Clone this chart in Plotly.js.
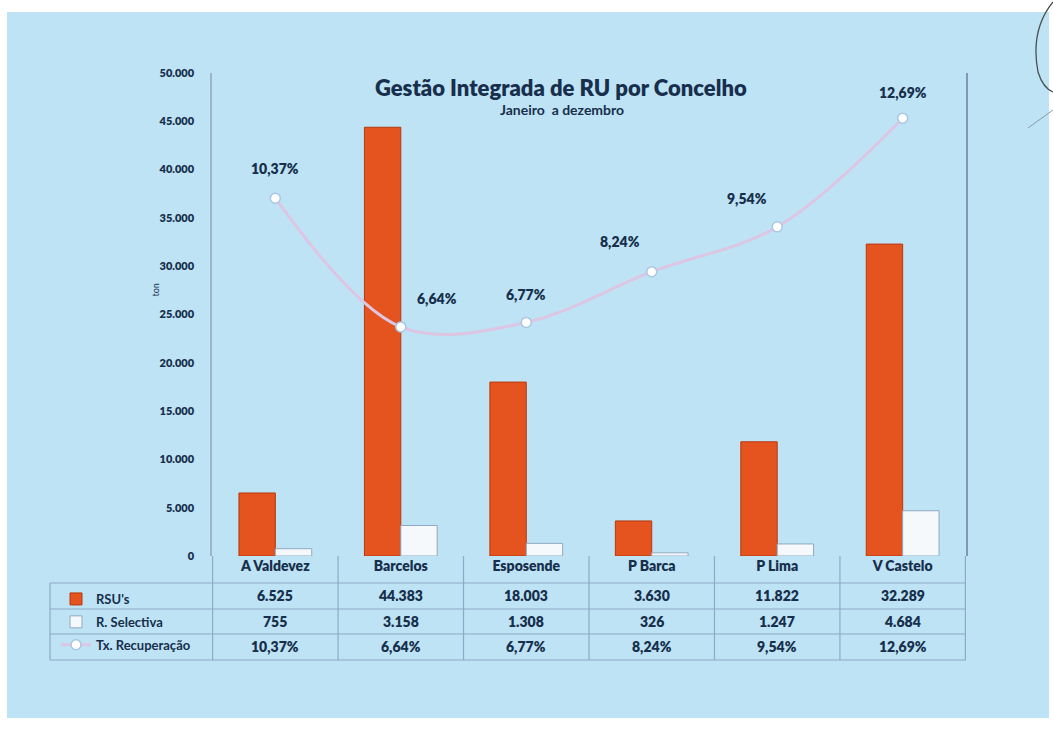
<!DOCTYPE html>
<html>
<head>
<meta charset="utf-8">
<script src="https://cdn.plot.ly/plotly-3.0.1.min.js"></script>
<style>
html,body{margin:0;padding:0;background:#ffffff;}
#chart{width:1053px;height:731px;}
</style>
</head>
<body>
<div id="chart"></div>
<script>
// ---- data ----
const categories = ["A Valdevez", "Barcelos", "Esposende", "P Barca", "P Lima", "V Castelo"];
const rsu = [6525, 44383, 18003, 3630, 11822, 32289];
const selectiva = [755, 3158, 1308, 326, 1247, 4684];
const txRecuperacao = [10.37, 6.64, 6.77, 8.24, 9.54, 12.69];
const seriesNames = ["RSU's", "R. Selectiva", "Tx. Recuperação"];
const yTicks = [0, 5000, 10000, 15000, 20000, 25000, 30000, 35000, 40000, 45000, 50000];

// ---- helpers ----
const NAVY = "#172f4c";
const FONT = "Lato, 'Open Sans', sans-serif";
function fmtInt(v){ return String(v).replace(/\B(?=(\d{3})+(?!\d))/g, "."); }
function fmtPct(v){ return v.toFixed(2).replace(".", ",") + "%"; }

// plot area geometry (pixels) used to convert to paper coords
const L = 212, R = 87, T = 73, B = 175, W = 1053, H = 731;
const PW = W - L - R, PH = H - T - B;
const px2x = p => (p - L) / PW;
const py2y = p => (H - B - p) / PH;

const traces = [
  {
    type: "bar", name: seriesNames[0], x: categories, y: rsu,
    marker: {color: "#e5531f", line: {color: "#b7380f", width: 1}},
    legendgroup: "a", hoverinfo: "x+y"
  },
  {
    type: "bar", name: seriesNames[1], x: categories, y: selectiva,
    marker: {color: "#f6f9fc", line: {color: "#8fa9c2", width: 1}},
    legendgroup: "b", hoverinfo: "x+y"
  },
  {
    type: "scatter", mode: "lines+markers", name: seriesNames[2],
    x: categories, y: txRecuperacao, yaxis: "y2",
    line: {color: "#dcc6e3", width: 3, shape: "spline", smoothing: 1.0},
    marker: {color: "#ffffff", size: 10, line: {color: "#a9c6e2", width: 1.5}},
    legendgroup: "c"
  }
];

// percentage labels near each marker
const labelShift = [[0, 30], [36, 28], [0, 28], [-32, 30], [-30, 28], [0, 26]];
const annotations = txRecuperacao.map((v, i) => ({
  x: categories[i], y: v, xref: "x", yref: "y2", text: fmtPct(v),
  showarrow: false, xshift: labelShift[i][0], yshift: labelShift[i][1],
  font: {family: FONT, size: 14, color: NAVY, weight: 800}
}));

// data table rows under the axis
const rowY = [595, 621, 646];
const rows = [rsu.map(fmtInt), selectiva.map(fmtInt), txRecuperacao.map(fmtPct)];
rows.forEach((row, r) => {
  row.forEach((t, i) => annotations.push({
    x: categories[i], xref: "x", y: py2y(rowY[r]), yref: "paper", text: t,
    showarrow: false, yanchor: "middle",
    font: {family: FONT, size: 14, color: NAVY, weight: 800}
  }));
});

// titles
annotations.push({
  x: px2x(561), y: py2y(87), xref: "paper", yref: "paper", showarrow: false,
  yanchor: "middle",
  text: "Gestão Integrada de RU por Concelho",
  font: {family: FONT, size: 22, color: NAVY, weight: 800}
});
annotations.push({
  x: px2x(562), y: py2y(110), xref: "paper", yref: "paper", showarrow: false,
  yanchor: "middle",
  text: "Janeiro  a dezembro",
  font: {family: FONT, size: 14, color: NAVY, weight: 700}
});
// axis unit label
annotations.push({
  x: px2x(147), y: py2y(290), xref: "paper", yref: "paper", showarrow: false,
  text: "ton", textangle: -90,
  font: {family: FONT, size: 9, color: NAVY}
});

// shapes: background panel + table grid
const GRID = "#8eaac6";
const TABLE_LEFT = 50;
const shapes = [
  {type: "rect", xref: "paper", yref: "paper", layer: "below",
   x0: px2x(7), x1: px2x(1049), y0: py2y(718), y1: py2y(12),
   fillcolor: "#bee3f5", line: {width: 0}},
  {type: "path", xref: "paper", yref: "paper",
   path: "M " + px2x(1053) + "," + py2y(2) + " Q " + px2x(1030) + "," + py2y(30) +
         " " + px2x(1038) + "," + py2y(72) + " Q " + px2x(1043) + "," + py2y(88) +
         " " + px2x(1053) + "," + py2y(92),
   line: {color: "#4a4f55", width: 1.3}},
  {type: "line", xref: "paper", yref: "paper",
   x0: px2x(1028), y0: py2y(128), x1: px2x(1053), y1: py2y(110),
   line: {color: "#8899aa", width: 1}}
];
const lineRows = [583, 609, 634, 660];
lineRows.forEach(py => shapes.push({
  type: "line", xref: "paper", yref: "paper",
  x0: px2x(TABLE_LEFT), x1: 1, y0: py2y(py), y1: py2y(py),
  line: {color: GRID, width: 1.2}
}));
for (let k = 0; k <= categories.length; k++) {
  shapes.push({
    type: "line", xref: "x", yref: "paper",
    x0: k - 0.5, x1: k - 0.5, y0: py2y(660), y1: 0,
    line: {color: GRID, width: 1.2}
  });
}
shapes.push({
  type: "line", xref: "paper", yref: "paper",
  x0: px2x(TABLE_LEFT), x1: px2x(TABLE_LEFT), y0: py2y(660), y1: py2y(583),
  line: {color: GRID, width: 1.2}
});

const layout = {
  width: W, height: H,
  margin: {l: L, r: R, t: T, b: B},
  paper_bgcolor: "#ffffff", plot_bgcolor: "rgba(0,0,0,0)",
  separators: ",.",
  font: {family: FONT, color: NAVY},
  barmode: "group", bargap: 0.42, bargroupgap: 0,
  showlegend: true,
  legend: {
    x: px2x(56), y: py2y(584), xanchor: "left", yanchor: "top",
    bgcolor: "rgba(0,0,0,0)", tracegroupgap: 3,
    font: {family: FONT, size: 13, color: NAVY, weight: 700},
    itemwidth: 30
  },
  xaxis: {
    type: "category", showgrid: false, zeroline: false,
    showline: false, ticks: "",
    tickfont: {family: FONT, size: 14, color: NAVY, weight: 800}
  },
  yaxis: {
    range: [0, 50000], tickvals: yTicks, tickformat: ",d",
    showgrid: false, zeroline: false, showline: true, linecolor: "#9bb3cb", linewidth: 1.5,
    ticks: "", ticklabelstandoff: 14,
    tickfont: {family: FONT, size: 11, color: NAVY, weight: 800}
  },
  yaxis2: {
    overlaying: "y", side: "right", range: [0, 14],
    showticklabels: false, showgrid: false, zeroline: false,
    showline: true, linecolor: "#8098b4", linewidth: 1.5, ticks: ""
  },
  shapes: shapes,
  annotations: annotations
};

Plotly.newPlot("chart", traces, layout, {displayModeBar: false});
</script>
</body>
</html>
